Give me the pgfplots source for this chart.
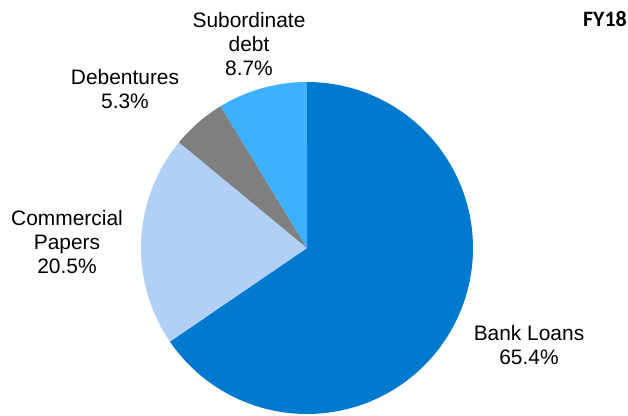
\documentclass[border=0pt]{standalone}
\usepackage{pgfplots}
\pgfplotsset{compat=1.18}
\usepackage{fontspec}
\setmainfont{Liberation Sans}
\newfontfamily\calibri{Carlito}

\definecolor{bankblue}{RGB}{0,122,206}
\definecolor{paperblue}{RGB}{178,207,245}
\definecolor{debgrey}{RGB}{127,127,127}
\definecolor{subblue}{RGB}{61,176,255}

% centre and radius of the pie, in axis units
\def\cx{307}
\def\cy{168}
\def\rr{166}
\def\total{0.999}% sum of the shares / 100

% one slice: cumulative share before it, its share, its colour
\newcommand\pieslice[3]{%
  \pgfmathsetmacro\aS{90-3.6*#1/\total}%
  \pgfmathsetmacro\aE{90-3.6*(#1+#2)/\total}%
  \edef\tmp{\noexpand\addplot[fill=#3,draw=none,domain=\aE:\aS,samples=120]
    ({\cx+\rr*cos(x)},{\cy+\rr*sin(x)}) -- (axis cs:\cx,\cy) -- cycle;}%
  \tmp}

\begin{document}
\begin{tikzpicture}
\begin{axis}[
  name=pie,
  scale only axis, width=628bp, height=416bp,
  xmin=0, xmax=628, ymin=0, ymax=416,
  hide axis, clip=false,
]
% shares: Bank Loans 65.4, Commercial Papers 20.5, Debentures 5.3, Subordinate debt 8.7
\pieslice{0}{65.4}{bankblue}
\pieslice{65.4}{20.5}{paperblue}
\pieslice{85.9}{5.3}{debgrey}
\pieslice{91.2}{8.7}{subblue}

\tikzset{lbl/.style={align=center, font=\fontsize{21}{24}\selectfont, text=black, inner sep=0pt}}
\node[lbl] at (axis cs:249,372) {Subordinate\\debt\\8.7\%};
\node[lbl] at (axis cs:125,327) {Debentures\\5.3\%};
\node[lbl] at (axis cs:67,174) {Commercial\\Papers\\20.5\%};
\node[lbl] at (axis cs:529,71) {Bank Loans\\65.4\%};
\node[font=\calibri\bfseries\fontsize{22}{24}\selectfont, inner sep=0pt] at (axis cs:605,397) {FY18};
\end{axis}
% the page is exactly the plot area
\pgfresetboundingbox
\path (pie.south west) rectangle (pie.north east);
\end{tikzpicture}
\end{document}
